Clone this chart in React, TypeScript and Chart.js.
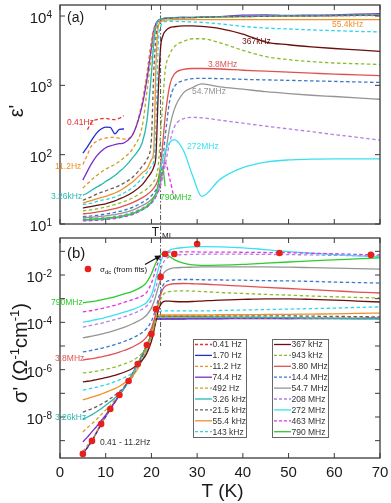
import React, { useEffect, useRef } from "react";
import { Chart, registerables } from "chart.js";

Chart.register(...registerables);

const FONT = "Arial, 'Liberation Sans', Helvetica, sans-serif";
const _ = null;

// Temperature grid (K) shared by every curve
const temps = [5, 6, 7, 8, 9, 10, 11, 12, 13, 14, 16, 18, 19, 20, 20.5, 21, 21.5, 22, 22.5, 23, 24, 25, 27, 29, 31, 35, 40, 45, 50, 55, 60, 65, 70];
const xTicks = [0, 10, 20, 30, 40, 50, 60, 70];
const T_MI = 22;

// ---------- panel (a): eps' ----------
const eps041 = [_, 230, 300, 320, 330, 335, 325, 320, 335, 365, _, _, _, _, _, _, _, _, _, _, _, _, _, _, _, _, _, _, _, _, _, _, _];
const eps170 = [105, 130, 165, 205, 235, 250, 248, 200, 232, 235, _, _, _, _, _, _, _, _, _, _, _, _, _, _, _, _, _, _, _, _, _, _, _];
const eps112 = [72, 100, 138, 155, 168, 174, 177, 178, 172, 168, 200, 600, 1500, 4500, 6500, 7800, 8500, 8800, 9000, 9100, 9300, 9400, 9500, 9500, 9600, 9700, 9800, 9900, 9900, 10000, 10000, 10100, 10200];
const eps744 = [43, 58, 76, 95, 112, 126, 134, 140, 144, 148, 200, 520, 1200, 3500, 6000, 7800, 8700, 9000, 9200, 9300, 9400, 9500, 9600, 9500, 9600, 9800, 10300, 10400, 10200, 10300, 10400, 10600, 10800];
const eps492 = [33, 38, 44, 50, 56, 62, 67, 72, 80, 90, 125, 260, 800, 2800, 5500, 7500, 8500, 9000, 9200, 9300, 9400, 9500, 9500, 9500, 9600, 9700, 9800, 9900, 10000, 10100, 10200, 10300, 10400];
const eps326k = [26, 28, 31, 34, 37, 41, 45, 50, 57, 65, 92, 150, 300, 1500, 4000, 7000, 8500, 9000, 9200, 9300, 9400, 9500, 9500, 9600, 9700, 9800, 9900, 10000, 10100, 10100, 10200, 10300, 10300];
const eps215k = [22, 23.5, 25, 27, 28.5, 30, 32, 33.5, 36, 39, 48, 68, 85, 170, 1500, 5000, 7500, 8500, 9000, 9200, 9300, 9400, 9400, 9500, 9600, 9700, 9800, 9900, 10000, 10000, 10100, 10200, 10200];
const eps554k = [20, 21, 22, 23, 24, 25, 26.5, 28, 30, 33, 41, 55, 62, 85, 115, 2000, 7000, 8200, 8500, 8700, 8800, 8850, 8900, 8900, 8900, 8900, 8900, 8900, 8900, 8900, 8900, 8900, 8900];
const eps143k = [19, 19.5, 20, 21, 22, 22.5, 23.5, 24.5, 26, 28, 34, 46, 55, 68, 80, 300, 4000, 7000, 8000, 8300, 8400, 8400, 8300, 8200, 8100, 7700, 7100, 6700, 6500, 6300, 6150, 6000, 5900];
const eps367k = [17, 17.5, 18, 18.5, 19, 19.5, 20.5, 21.5, 23, 24.5, 29, 37, 45, 56, 66, 100, 800, 3500, 5200, 6000, 6800, 7000, 7200, 7200, 7100, 6600, 5500, 4200, 3850, 3600, 3400, 3250, 3100];
const eps943k = [15.5, 15.8, 16.1, 16.5, 17, 17.5, 18.2, 19, 20, 21, 24, 29, 32, 37, 41, 47, 70, 200, 600, 1600, 2800, 3600, 4300, 4700, 4700, 4100, 3200, 2600, 2350, 2200, 2100, 2050, 2000];
const eps380M = [14, 14.2, 14.5, 14.8, 15.2, 15.6, 16.1, 16.7, 17.4, 18.2, 20.5, 24, 26.5, 30, 33, 37, 45, 70, 150, 350, 1000, 1450, 1700, 1750, 1750, 1720, 1650, 1600, 1550, 1500, 1450, 1420, 1380];
const eps144M = [12.8, 12.9, 13.1, 13.3, 13.6, 13.9, 14.3, 14.7, 15.2, 15.8, 17.5, 20.5, 22.5, 25.5, 28, 31, 37, 50, 85, 180, 600, 950, 1170, 1250, 1260, 1250, 1220, 1200, 1180, 1160, 1140, 1120, 1100];
const eps547M = [12.3, 12.4, 12.5, 12.7, 12.9, 13.1, 13.4, 13.7, 14.1, 14.6, 16, 18.5, 20, 22.5, 24.5, 27, 31, 40, 58, 95, 250, 450, 780, 930, 1050, 950, 880, 810, 760, 720, 690, 660, 630];
const eps208M = [11.8, 11.9, 12, 12.1, 12.2, 12.4, 12.6, 12.9, 13.2, 13.6, 14.8, 17, 18.5, 21, 23, 25.5, 29, 36, 48, 70, 150, 250, 330, 345, 340, 315, 285, 258, 235, 215, 195, 178, 162];
const eps272M = [11.3, 11.3, 11.4, 11.5, 11.6, 11.8, 12, 12.2, 12.5, 12.9, 14, 16, 17.5, 20, 22.5, 26, 33, 60, 88, 110, 150, 165, 115, 50, 25, 44, 65, 78, 84, 86, 87, 87, 87];
const eps463M = [11.1, 11.1, 11.2, 11.3, 11.4, 11.6, 11.8, 12, 12.3, 12.7, 13.8, 16, 17.5, 20, 22, 25, 30, 42, 62, 76, 45, 23, _, _, _, _, _, _, _, _, _, _, _];
const eps790M = [11.6, 11.6, 11.7, 11.8, 11.9, 12.1, 12.3, 12.5, 12.8, 13.2, 14.3, 16.5, 18, 21, 24, 28, 38, 58, 62, 35, _, _, _, _, _, _, _, _, _, _, _, _, _];

// ---------- panel (b): log10 of sigma' (Ohm^-1 cm^-1) ----------
const sigLog041 = [-9.58, -9.3, -9.02, -8.66, -8.31, -7.99, -7.67, -7.38, -7.08, -6.79, -6.13, -5.39, -4.97, -4.5, -4.05, -3.84, -3.84, -3.83, -3.83, -3.83, -3.83, -3.83, -3.83, -3.83, -3.82, -3.82, -3.82, -3.82, -3.82, -3.83, -3.83, -3.83, -3.83];
const sigLog170 = [-9.56, -9.28, -9.0, -8.65, -8.3, -7.98, -7.66, -7.37, -7.07, -6.78, -6.12, -5.38, -4.96, -4.49, -4.04, -3.86, -3.86, -3.86, -3.86, -3.86, -3.86, -3.86, -3.86, -3.85, -3.85, -3.85, -3.84, -3.84, -3.84, -3.83, -3.83, -3.83, -3.82];
const sigLog112 = [-9.45, -9.2, -8.95, -8.62, -8.28, -7.96, -7.65, -7.36, -7.06, -6.77, -6.11, -5.37, -4.95, -4.48, -4.03, -3.83, -3.82, -3.82, -3.82, -3.82, -3.82, -3.82, -3.82, -3.82, -3.82, -3.83, -3.83, -3.83, -3.83, -3.84, -3.84, -3.84, -3.84];
const sigLog744 = [-9.05, -8.85, -8.62, -8.4, -8.16, -7.92, -7.64, -7.36, -7.07, -6.78, -6.12, -5.38, -4.96, -4.5, -4.05, -3.82, -3.83, -3.83, -3.83, -3.83, -3.83, -3.83, -3.83, -3.83, -3.83, -3.83, -3.83, -3.83, -3.84, -3.84, -3.84, -3.84, -3.84];
const sigLog492 = [-8.63, -8.45, -8.28, -8.1, -7.9, -7.7, -7.5, -7.28, -7.04, -6.77, -6.12, -5.38, -4.96, -4.5, -4.05, -3.8, -3.8, -3.8, -3.8, -3.8, -3.8, -3.8, -3.8, -3.8, -3.8, -3.8, -3.81, -3.81, -3.81, -3.82, -3.82, -3.82, -3.82];
const sigLog326k = [-8.1, -8.0, -7.9, -7.78, -7.65, -7.5, -7.36, -7.2, -7.02, -6.8, -6.16, -5.4, -4.97, -4.5, -4.05, -3.78, -3.76, -3.75, -3.75, -3.75, -3.75, -3.75, -3.75, -3.76, -3.76, -3.77, -3.78, -3.79, -3.8, -3.82, -3.83, -3.85, -3.86];
const sigLog215k = [-7.79, -7.72, -7.65, -7.56, -7.46, -7.35, -7.22, -7.08, -6.92, -6.74, -6.25, -5.45, -4.98, -4.5, -4.05, -3.78, -3.74, -3.73, -3.73, -3.73, -3.73, -3.73, -3.73, -3.73, -3.73, -3.73, -3.73, -3.73, -3.73, -3.74, -3.75, -3.76, -3.77];
const sigLog554k = [-7.28, -7.22, -7.16, -7.1, -7.03, -6.96, -6.88, -6.8, -6.7, -6.58, -6.25, -5.6, -5.1, -4.55, -4.1, -3.75, -3.7, -3.69, -3.69, -3.69, -3.69, -3.69, -3.69, -3.69, -3.69, -3.68, -3.68, -3.67, -3.66, -3.65, -3.64, -3.62, -3.61];
const sigLog143k = [-6.86, -6.82, -6.78, -6.74, -6.69, -6.64, -6.58, -6.51, -6.43, -6.34, -6.1, -5.6, -5.2, -4.65, -4.25, -3.85, -3.6, -3.53, -3.52, -3.52, -3.52, -3.52, -3.52, -3.52, -3.52, -3.5, -3.48, -3.46, -3.44, -3.42, -3.4, -3.37, -3.35];
const sigLog367k = [-6.52, -6.49, -6.46, -6.42, -6.38, -6.34, -6.29, -6.24, -6.18, -6.11, -5.93, -5.6, -5.3, -4.8, -4.4, -3.95, -3.5, -3.25, -3.14, -3.1, -3.1, -3.12, -3.13, -3.12, -3.1, -3.06, -3.03, -3.01, -3.01, -3.03, -3.06, -3.1, -3.14];
const sigLog943k = [-6.14, -6.12, -6.09, -6.06, -6.02, -5.98, -5.94, -5.89, -5.83, -5.76, -5.6, -5.3, -5.05, -4.6, -4.25, -3.85, -3.4, -3.05, -2.85, -2.75, -2.7, -2.68, -2.67, -2.68, -2.7, -2.74, -2.78, -2.82, -2.85, -2.89, -2.92, -2.95, -2.97];
const sigLog380M = [-5.59, -5.56, -5.53, -5.5, -5.46, -5.42, -5.37, -5.32, -5.26, -5.19, -5.03, -4.8, -4.6, -4.25, -3.95, -3.6, -3.2, -2.85, -2.6, -2.48, -2.4, -2.37, -2.36, -2.37, -2.38, -2.42, -2.47, -2.52, -2.57, -2.62, -2.67, -2.72, -2.76];
const sigLog144M = [-5.25, -5.22, -5.18, -5.14, -5.1, -5.05, -5.0, -4.94, -4.88, -4.81, -4.65, -4.43, -4.25, -3.95, -3.7, -3.4, -3.0, -2.7, -2.45, -2.32, -2.23, -2.2, -2.19, -2.19, -2.2, -2.21, -2.22, -2.24, -2.25, -2.27, -2.3, -2.32, -2.34];
const sigLog547M = [-4.66, -4.62, -4.58, -4.54, -4.5, -4.45, -4.4, -4.34, -4.28, -4.21, -4.05, -3.85, -3.68, -3.4, -3.15, -2.85, -2.5, -2.2, -1.98, -1.85, -1.74, -1.7, -1.68, -1.67, -1.66, -1.66, -1.66, -1.66, -1.67, -1.69, -1.71, -1.73, -1.75];
const sigLog208M = [-4.2, -4.16, -4.12, -4.08, -4.04, -3.99, -3.94, -3.89, -3.83, -3.77, -3.63, -3.45, -3.3, -3.05, -2.8, -2.5, -2.15, -1.8, -1.52, -1.35, -1.22, -1.17, -1.14, -1.13, -1.12, -1.12, -1.12, -1.13, -1.14, -1.15, -1.17, -1.18, -1.2];
const sigLog272M = [-3.99, -3.96, -3.92, -3.88, -3.84, -3.79, -3.74, -3.69, -3.63, -3.57, -3.45, -3.28, -3.15, -2.85, -2.55, -2.15, -1.75, -1.45, -1.22, -1.08, -0.95, -0.89, -0.84, -0.81, -0.8, -0.81, -0.85, -0.93, -1.01, -1.08, -1.14, -1.19, -1.24];
const sigLog463M = [-3.56, -3.53, -3.5, -3.46, -3.42, -3.38, -3.33, -3.28, -3.22, -3.16, -3.03, -2.88, -2.72, -2.35, -2.05, -1.72, -1.45, -1.25, -1.12, -1.06, -1.03, -1.02, -1.02, -1.02, -1.03, -1.03, -1.04, -1.05, -1.06, -1.08, -1.1, -1.13, -1.15];
const sigLog790M = [-3.18, -3.15, -3.12, -3.09, -3.05, -3.01, -2.97, -2.92, -2.86, -2.8, -2.68, -2.48, -2.3, -1.95, -1.7, -1.48, -1.3, -1.15, -1.1, -1.1, -1.22, -1.35, -1.5, -1.57, -1.59, -1.58, -1.55, -1.5, -1.45, -1.4, -1.36, -1.32, -1.28];

// sigma_dc from fits (red dots)
const dcTemps = [5, 7, 9, 11, 13, 15, 17, 19, 20, 21, 22, 23, 25, 30, 48, 68];
const dcLog = [-9.56, -9.01, -8.3, -7.66, -7.07, -6.48, -5.76, -4.96, -4.49, -3.44, -2.08, -1.11, -1.11, -0.69, -1.07, -1.15];

const EPS = [eps041, eps170, eps112, eps744, eps492, eps326k, eps215k, eps554k, eps143k, eps367k, eps943k, eps380M, eps144M, eps547M, eps208M, eps272M, eps463M, eps790M];
const SIG_LOG = [sigLog041, sigLog170, sigLog112, sigLog744, sigLog492, sigLog326k, sigLog215k, sigLog554k, sigLog143k, sigLog367k, sigLog943k, sigLog380M, sigLog144M, sigLog547M, sigLog208M, sigLog272M, sigLog463M, sigLog790M];

const SERIES = [
  { label: "0.41 Hz", color: "#e8312f", dash: true },
  { label: "1.70 Hz", color: "#1f2fd0", dash: false },
  { label: "11.2 Hz", color: "#f0902a", dash: true },
  { label: "74.4 Hz", color: "#7a2ccc", dash: false },
  { label: "492 Hz", color: "#c9a227", dash: true },
  { label: "3.26 kHz", color: "#28b8b0", dash: false },
  { label: "21.5 kHz", color: "#6e5d5d", dash: true },
  { label: "55.4 kHz", color: "#f0902a", dash: false },
  { label: "143 kHz", color: "#2ad6ea", dash: true },
  { label: "367 kHz", color: "#6a0e0e", dash: false },
  { label: "943 kHz", color: "#8dbb2c", dash: true },
  { label: "3.80 MHz", color: "#e05252", dash: false },
  { label: "14.4 MHz", color: "#3a78c8", dash: true },
  { label: "54.7 MHz", color: "#959595", dash: false },
  { label: "208 MHz", color: "#b37fe3", dash: true },
  { label: "272 MHz", color: "#38e2f2", dash: false },
  { label: "463 MHz", color: "#e232e2", dash: true },
  { label: "790 MHz", color: "#2ecb2e", dash: false },
];

const ANNOT_A = [
  { text: "0.41Hz", x: 67, y: 123, color: "#e8312f" },
  { text: "11.2Hz", x: 55, y: 167, color: "#f0902a" },
  { text: "3.26kHz", x: 51, y: 197, color: "#28b8b0" },
  { text: "790MHz", x: 160, y: 198, color: "#2ecb2e" },
  { text: "272MHz", x: 187, y: 147, color: "#38e2f2" },
  { text: "54.7MHz", x: 192, y: 92, color: "#959595" },
  { text: "3.8MHz", x: 208, y: 65, color: "#e05252" },
  { text: "367kHz", x: 242, y: 42, color: "#6a0e0e" },
  { text: "55.4kHz", x: 332, y: 25, color: "#f0902a" },
];
const ANNOT_B = [
  { text: "790MHz", x: 51, y: 73, color: "#2ecb2e" },
  { text: "3.8MHz", x: 55, y: 129, color: "#e05252" },
  { text: "3.26kHz", x: 55, y: 188, color: "#28b8b0" },
  { text: "0.41 - 11.2Hz", x: 100, y: 213, color: "#333333" },
];

type Part = { t: string; size: number; dy?: number };

function drawRich(ctx: CanvasRenderingContext2D, parts: Part[], x: number, y: number, align: string, color: string) {
  let w = 0;
  for (const p of parts) {
    ctx.font = `${p.size}px ${FONT}`;
    w += ctx.measureText(p.t).width;
  }
  let cx = align === "left" ? x : align === "center" ? x - w / 2 : x - w;
  ctx.fillStyle = color;
  ctx.textAlign = "left";
  ctx.textBaseline = "alphabetic";
  for (const p of parts) {
    ctx.font = `${p.size}px ${FONT}`;
    ctx.fillText(p.t, cx, y + (p.dy || 0));
    cx += ctx.measureText(p.t).width;
  }
}

function drawFrame(chart: any, yExps: number[], labelExps: number[], showXLabels: boolean) {
  const { ctx, chartArea: a } = chart;
  const xs = chart.scales.x;
  const ys = chart.scales.y;
  ctx.save();
  ctx.setLineDash([]);
  ctx.strokeStyle = "#3a3a3a";
  ctx.lineWidth = 1.3;
  ctx.strokeRect(a.left, a.top, a.right - a.left, a.bottom - a.top);
  ctx.lineWidth = 1;
  ctx.beginPath();
  for (const t of xTicks) {
    const x = xs.getPixelForValue(t);
    ctx.moveTo(x, a.bottom);
    ctx.lineTo(x, a.bottom - 5);
    ctx.moveTo(x, a.top);
    ctx.lineTo(x, a.top + 5);
  }
  for (const e of yExps) {
    const y = ys.getPixelForValue(Math.pow(10, e));
    ctx.moveTo(a.left, y);
    ctx.lineTo(a.left + 5, y);
    ctx.moveTo(a.right, y);
    ctx.lineTo(a.right - 5, y);
  }
  ctx.stroke();
  for (const e of labelExps) {
    const y = ys.getPixelForValue(Math.pow(10, e));
    drawRich(ctx, [{ t: "10", size: 15, dy: 7 }, { t: String(e), size: 10, dy: 2 }], a.left - 8, y, "right", "#1a1a1a");
  }
  if (showXLabels) {
    ctx.font = `15px ${FONT}`;
    ctx.textAlign = "center";
    ctx.textBaseline = "alphabetic";
    ctx.fillStyle = "#1a1a1a";
    for (const t of xTicks) ctx.fillText(String(t), xs.getPixelForValue(t), a.bottom + 19);
  }
  ctx.restore();
}

function drawAnnots(ctx: CanvasRenderingContext2D, list: any[]) {
  ctx.save();
  ctx.font = `8.5px ${FONT}`;
  ctx.textAlign = "left";
  ctx.textBaseline = "middle";
  for (const n of list) {
    ctx.fillStyle = n.color;
    ctx.fillText(n.text, n.x, n.y);
  }
  ctx.restore();
}

function drawTmi(chart: any, yEnd: number) {
  const { ctx, chartArea: a } = chart;
  const x = chart.scales.x.getPixelForValue(T_MI);
  ctx.save();
  ctx.strokeStyle = "#555";
  ctx.lineWidth = 1;
  ctx.setLineDash([5, 2, 1.5, 2]);
  ctx.beginPath();
  ctx.moveTo(x, a.top);
  ctx.lineTo(x, yEnd);
  ctx.stroke();
  ctx.restore();
}

const panelAPlugin = {
  id: "panelA",
  beforeDatasetsDraw(chart: any) {
    drawTmi(chart, chart.height);
  },
  afterDraw(chart: any) {
    const ctx = chart.ctx;
    drawFrame(chart, [1, 2, 3, 4], [1, 2, 3, 4], false);
    ctx.save();
    ctx.translate(16, 111);
    ctx.rotate(-Math.PI / 2);
    drawRich(ctx, [{ t: "ε'", size: 20 }], 0, 7, "center", "#1a1a1a");
    ctx.restore();
    drawRich(ctx, [{ t: "(a)", size: 14 }], 67, 21.5, "left", "#1a1a1a");
    drawAnnots(ctx, ANNOT_A);
    const x = chart.scales.x.getPixelForValue(T_MI);
    drawRich(ctx, [{ t: "T", size: 12 }], x - 1.5, 236, "right", "#1a1a1a");
    drawRich(ctx, [{ t: "MI", size: 8 }], x + 1.5, 237.5, "left", "#1a1a1a");
  },
};

const panelBPlugin = {
  id: "panelB",
  beforeDatasetsDraw(chart: any) {
    drawTmi(chart, chart.scales.y.getPixelForValue(1e-5));
  },
  afterDraw(chart: any) {
    const ctx = chart.ctx;
    drawFrame(chart, [-9, -8, -7, -6, -5, -4, -3, -2, -1], [-8, -6, -4, -2], true);
    // y title
    ctx.save();
    ctx.translate(20, 123);
    ctx.rotate(-Math.PI / 2);
    drawRich(
      ctx,
      [
        { t: "σ' (Ω", size: 20 },
        { t: "-1", size: 13, dy: -8 },
        { t: "cm", size: 20 },
        { t: "-1", size: 13, dy: -8 },
        { t: ")", size: 20 },
      ],
      0,
      7,
      "center",
      "#1a1a1a"
    );
    ctx.restore();
    // x title
    drawRich(ctx, [{ t: "T (K)", size: 19 }], 222.5, 267, "center", "#1a1a1a");
    drawRich(ctx, [{ t: "(b)", size: 15 }], 67, 28, "left", "#1a1a1a");
    drawAnnots(ctx, ANNOT_B);
    // sigma_dc key + arrow
    ctx.save();
    ctx.fillStyle = "#e8201c";
    ctx.beginPath();
    ctx.arc(88, 39, 3.3, 0, Math.PI * 2);
    ctx.fill();
    ctx.restore();
    drawRich(
      ctx,
      [
        { t: "σ", size: 8 },
        { t: "dc", size: 6, dy: 2 },
        { t: " (from fits)", size: 8 },
      ],
      100,
      42,
      "left",
      "#1a1a1a"
    );
    ctx.save();
    ctx.strokeStyle = "#111";
    ctx.fillStyle = "#111";
    ctx.lineWidth = 1.2;
    const x0 = 145, y0 = 34.5, x1 = 161, y1 = 25.5;
    const ang = Math.atan2(y1 - y0, x1 - x0);
    ctx.beginPath();
    ctx.moveTo(x0, y0);
    ctx.lineTo(x1 - 4 * Math.cos(ang), y1 - 4 * Math.sin(ang));
    ctx.stroke();
    ctx.beginPath();
    ctx.moveTo(x1, y1);
    ctx.lineTo(x1 - 6 * Math.cos(ang) + 3 * Math.sin(ang), y1 - 6 * Math.sin(ang) - 3 * Math.cos(ang));
    ctx.lineTo(x1 - 6 * Math.cos(ang) - 3 * Math.sin(ang), y1 - 6 * Math.sin(ang) + 3 * Math.cos(ang));
    ctx.closePath();
    ctx.fill();
    ctx.restore();
    // legend boxes
    const cols = [
      { x: 193, w: 53, start: 0 },
      { x: 272, w: 56, start: 9 },
    ];
    ctx.save();
    for (const c of cols) {
      ctx.fillStyle = "#ffffff";
      ctx.fillRect(c.x, 109, c.w, 98);
      ctx.strokeStyle = "#666";
      ctx.lineWidth = 1;
      ctx.setLineDash([]);
      ctx.strokeRect(c.x + 0.5, 109.5, c.w, 98);
      for (let i = 0; i < 9; i++) {
        const s = SERIES[c.start + i];
        const y = 114.5 + 10.9 * i;
        ctx.strokeStyle = s.color;
        ctx.lineWidth = 1.3;
        ctx.setLineDash(s.dash ? [3, 2] : []);
        ctx.beginPath();
        ctx.moveTo(c.x + 2, y);
        ctx.lineTo(c.x + 19, y);
        ctx.stroke();
        ctx.setLineDash([]);
        ctx.font = `8.5px ${FONT}`;
        ctx.fillStyle = "#333";
        ctx.textAlign = "left";
        ctx.textBaseline = "middle";
        ctx.fillText(s.label, c.x + 19.5, y + 0.5);
      }
    }
    ctx.restore();
  },
};

function lineDatasets(values: any[][], toValue: (v: number) => number) {
  return SERIES.map((s, i) => ({
    type: "line",
    label: s.label,
    data: temps.map((t, k) => ({ x: t, y: values[i][k] === null ? null : toValue(values[i][k]) })),
    borderColor: s.color,
    borderWidth: 1.3,
    borderDash: s.dash ? [3.5, 2.5] : [],
    pointRadius: 0,
    fill: false,
    cubicInterpolationMode: "monotone",
    spanGaps: false,
    order: 100 - i,
  }));
}

function baseScales(yMin: number, yMax: number, xHeight: number) {
  return {
    x: {
      type: "linear",
      min: 0,
      max: 70,
      ticks: { display: false },
      grid: { display: false },
      border: { display: false },
      afterFit: (s: any) => {
        s.height = xHeight;
      },
    },
    y: {
      type: "logarithmic",
      min: yMin,
      max: yMax,
      ticks: { display: false },
      grid: { display: false },
      border: { display: false },
      afterFit: (s: any) => {
        s.width = 60;
      },
    },
  };
}

export default function App() {
  const refA = useRef<HTMLCanvasElement>(null);
  const refB = useRef<HTMLCanvasElement>(null);

  useEffect(() => {
    const chartA = new Chart(refA.current as HTMLCanvasElement, {
      type: "line",
      data: { datasets: lineDatasets(EPS, (v) => v) as any },
      options: {
        responsive: false,
        animation: false,
        events: [],
        layout: { padding: { left: 0, right: 11, top: 5, bottom: 0 } },
        plugins: { legend: { display: false }, tooltip: { enabled: false } },
        scales: baseScales(10, 14420, 16) as any,
      },
      plugins: [panelAPlugin],
    } as any);

    const dcPoints = dcTemps.map((t, k) => ({ x: t, y: Math.pow(10, dcLog[k]) }));
    const chartB = new Chart(refB.current as HTMLCanvasElement, {
      type: "line",
      data: {
        datasets: [
          ...(lineDatasets(SIG_LOG, (v) => Math.pow(10, v)) as any),
          {
            type: "scatter",
            label: "σdc (from fits)",
            data: dcPoints,
            showLine: false,
            pointRadius: 3.3,
            pointBackgroundColor: "#e8201c",
            pointBorderWidth: 0,
            order: -1,
          },
        ],
      },
      options: {
        responsive: false,
        animation: false,
        events: [],
        layout: { padding: { left: 0, right: 11, top: 8, bottom: 0 } },
        plugins: { legend: { display: false }, tooltip: { enabled: false } },
        scales: baseScales(1.85e-10, 0.366, 45) as any,
      },
      plugins: [panelBPlugin],
    } as any);

    return () => {
      chartA.destroy();
      chartB.destroy();
    };
  }, []);

  return (
    <div style={{ position: "absolute", left: 0, top: 0, width: 391, height: 503, background: "#ffffff" }}>
      <canvas ref={refA} width={391} height={240} style={{ position: "absolute", left: 0, top: 0 }} />
      <canvas ref={refB} width={391} height={273} style={{ position: "absolute", left: 0, top: 230 }} />
    </div>
  );
}
